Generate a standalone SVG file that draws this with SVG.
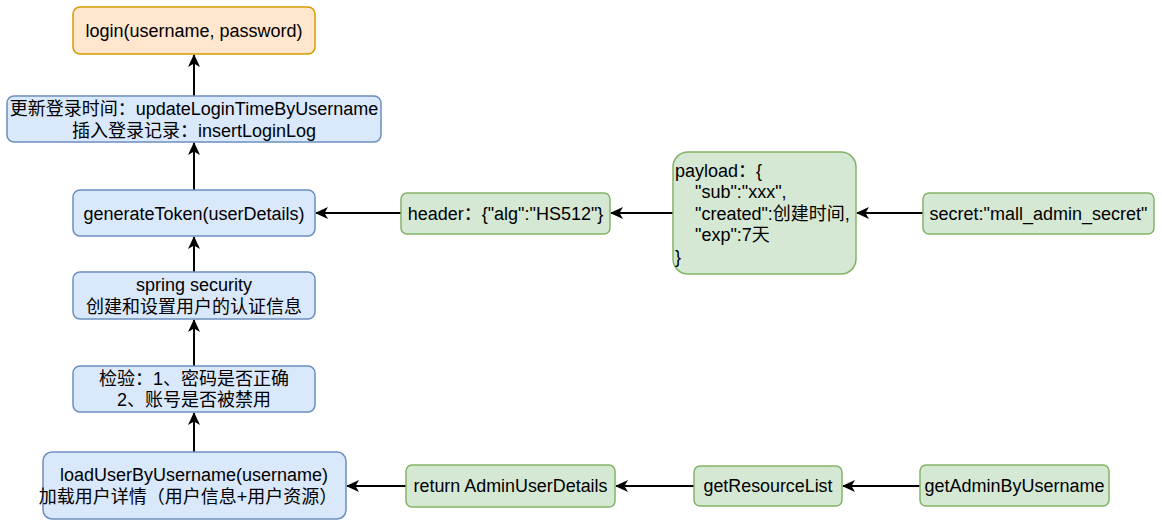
<svg xmlns="http://www.w3.org/2000/svg" width="1162" height="528" viewBox="0 0 1162 528">
<style>
text{font-family:"Liberation Sans","Noto Sans CJK SC",Arial,sans-serif;font-size:18px;fill:#000}
.c{text-anchor:middle}
.o{fill:#ffe6cc;stroke:#d79b00;stroke-width:1.5}
.b{fill:#dae8fc;stroke:#6c8ebf;stroke-width:1.5}
.g{fill:#d5e8d4;stroke:#82b366;stroke-width:1.5}
.e{stroke:#000;stroke-width:2;fill:none;marker-end:url(#arr)}
</style>
<defs>
<marker id="arr" markerUnits="userSpaceOnUse" markerWidth="16" markerHeight="14" viewBox="-14 -7 16 14" refX="0" refY="0" orient="auto">
<path d="M1,0 L-12,-6 L-8.5,0 L-12,6 Z" fill="#000"/>
</marker>
</defs>
<g id="edges">
<line class="e" x1="194" y1="96" x2="194" y2="55"/>
<line class="e" x1="194" y1="190" x2="194" y2="143"/>
<line class="e" x1="194" y1="272" x2="194" y2="237"/>
<line class="e" x1="194" y1="366" x2="194" y2="320"/>
<line class="e" x1="194" y1="452" x2="194" y2="413"/>
<line class="e" x1="401" y1="213" x2="316" y2="213"/>
<line class="e" x1="673" y1="213" x2="611" y2="213"/>
<line class="e" x1="923" y1="213" x2="857" y2="213"/>
<line class="e" x1="406" y1="486" x2="347" y2="486"/>
<line class="e" x1="694" y1="486" x2="616" y2="486"/>
<line class="e" x1="920" y1="486" x2="843" y2="486"/>
</g>
<g id="login">
<rect class="o" x="73" y="7" width="242" height="47" rx="7"/>
<text class="c" x="194" y="37">login(username, password)</text>
</g>
<g id="update">
<rect class="b" x="7" y="96" width="374" height="46" rx="7"/>
<text class="c" x="194" y="115">更新登录时间：updateLoginTimeByUsername</text>
<text class="c" x="194" y="136.5">插入登录记录：insertLoginLog</text>
</g>
<g id="generateToken">
<rect class="b" x="73" y="190" width="242" height="46" rx="7"/>
<text class="c" x="194" y="219.5">generateToken(userDetails)</text>
</g>
<g id="springSecurity">
<rect class="b" x="73" y="272" width="242" height="47" rx="7"/>
<text class="c" x="194" y="291">spring security</text>
<text class="c" x="194" y="312.5">创建和设置用户的认证信息</text>
</g>
<g id="check">
<rect class="b" x="73" y="366" width="242" height="46" rx="7"/>
<text class="c" x="194" y="384.5">检验：1、密码是否正确</text>
<text class="c" x="194" y="406">2、账号是否被禁用</text>
</g>
<g id="loadUser">
<rect class="b" x="43" y="452" width="303" height="67" rx="9"/>
<text class="c" x="194" y="481">loadUserByUsername(username)</text>
<text class="c" x="188" y="502.5">加载用户详情（用户信息+用户资源）</text>
</g>
<g id="header">
<rect class="g" x="401" y="193" width="209" height="41" rx="6"/>
<text class="c" x="505.5" y="219.5">header：{"alg":"HS512"}</text>
</g>
<g id="payload">
<rect class="g" x="673" y="152" width="183" height="122" rx="15"/>
<text x="675" y="176.5">payload：{</text>
<text x="695" y="198">"sub":"xxx",</text>
<text x="695" y="219.5">"created":创建时间,</text>
<text x="695" y="241">"exp":7天</text>
<text x="675" y="262.5">}</text>
</g>
<g id="secret">
<rect class="g" x="923" y="193" width="231" height="41" rx="6"/>
<text class="c" x="1038.5" y="219.5">secret:"mall_admin_secret"</text>
</g>
<g id="returnDetails">
<rect class="g" x="406" y="465" width="209" height="42" rx="6"/>
<text class="c" x="510.5" y="492" textLength="194" lengthAdjust="spacingAndGlyphs">return AdminUserDetails</text>
</g>
<g id="getResourceList">
<rect class="g" x="694" y="466" width="148" height="40" rx="6"/>
<text class="c" x="768" y="492" textLength="129" lengthAdjust="spacingAndGlyphs">getResourceList</text>
</g>
<g id="getAdmin">
<rect class="g" x="920" y="465" width="189" height="41" rx="6"/>
<text class="c" x="1014.5" y="492" textLength="180" lengthAdjust="spacingAndGlyphs">getAdminByUsername</text>
</g>
</svg>
